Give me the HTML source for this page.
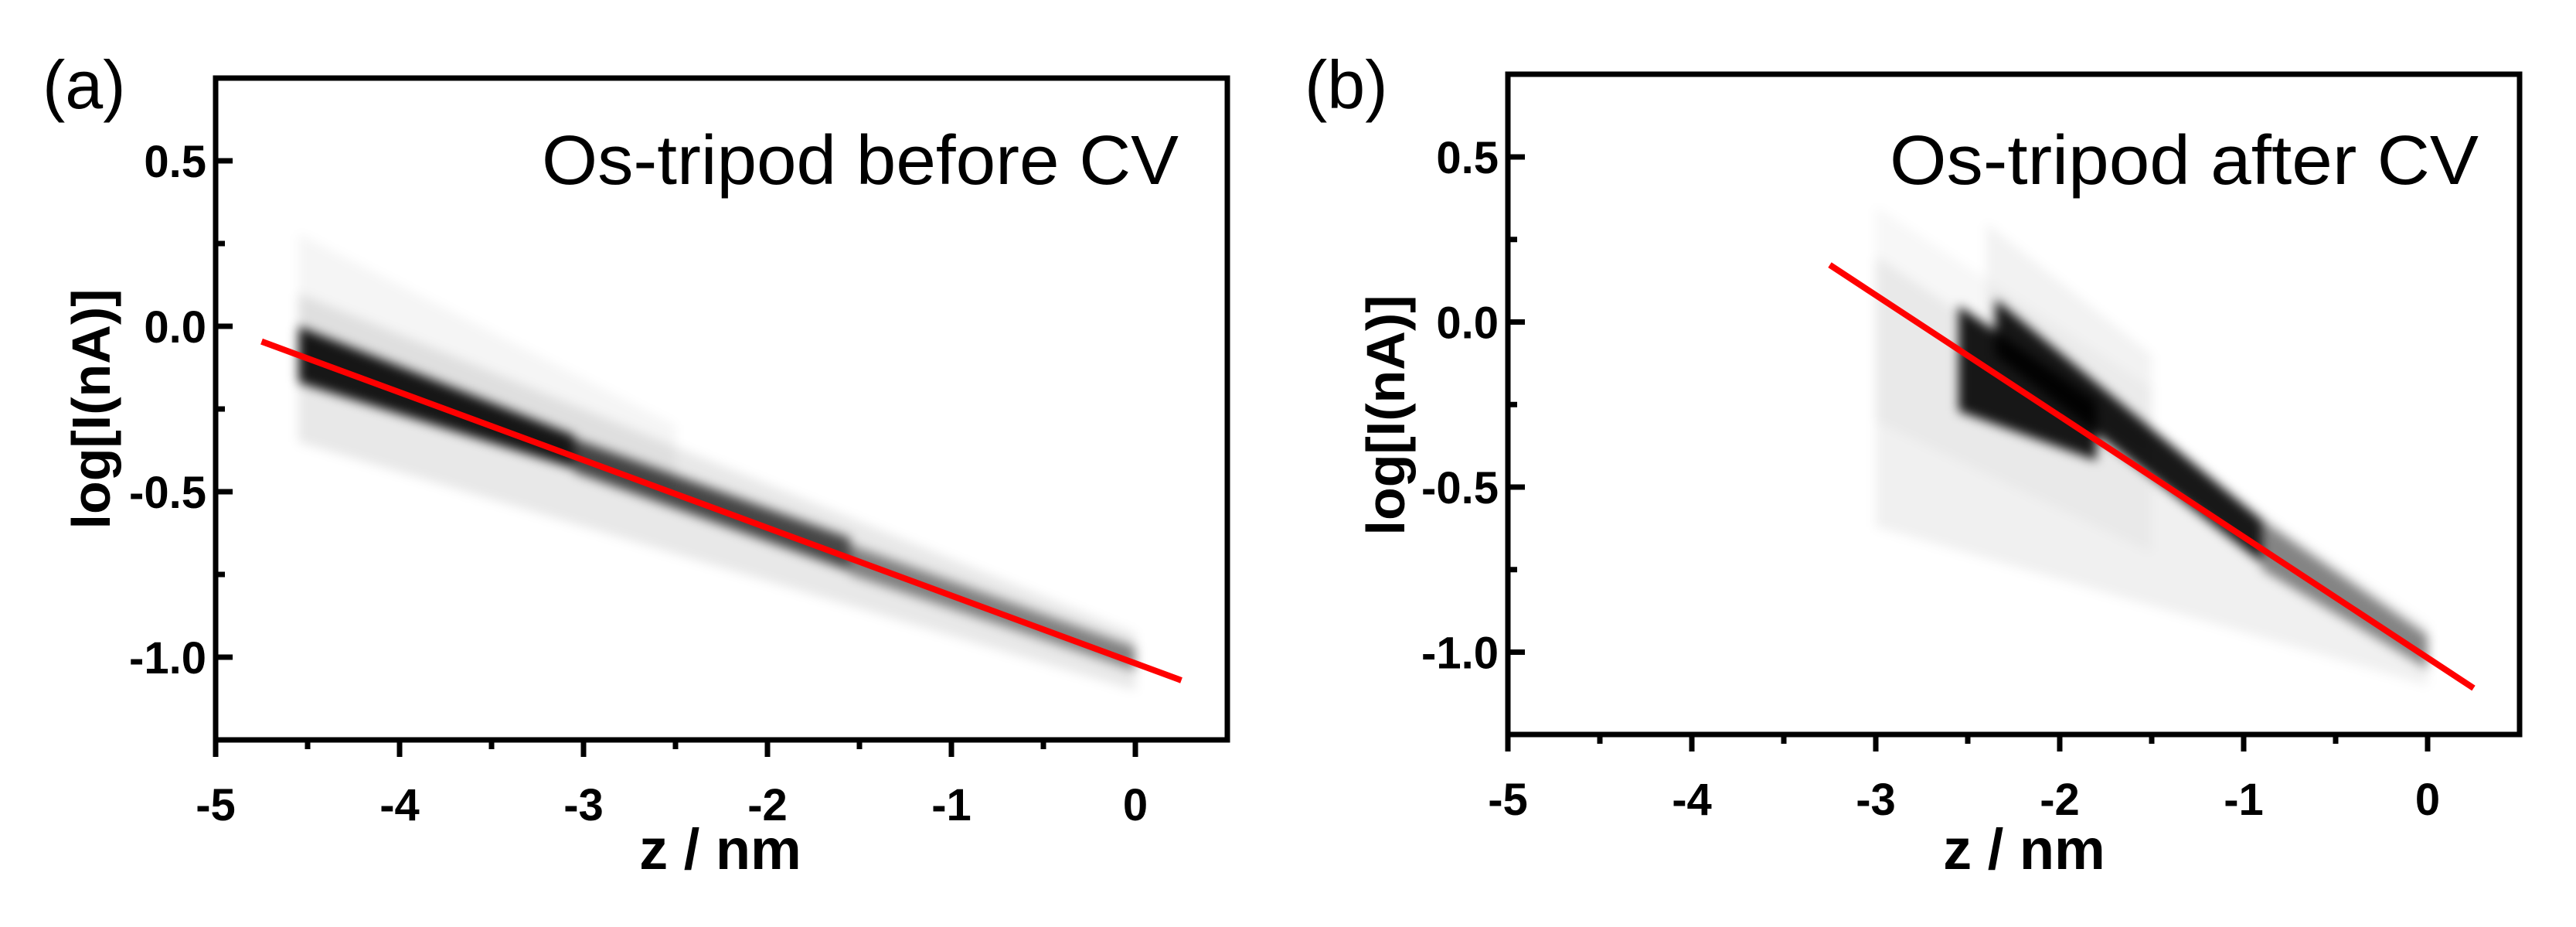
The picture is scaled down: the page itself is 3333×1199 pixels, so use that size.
<!DOCTYPE html>
<html><head><meta charset="utf-8"><style>
html,body{margin:0;padding:0;background:#fff}
svg{display:block}
text{font-family:"Liberation Sans",Arial,sans-serif}
</style></head><body>
<svg id="fig" width="3333" height="1199" viewBox="0 0 3333 1199" xmlns="http://www.w3.org/2000/svg">
<defs><filter id="blur" x="-20%" y="-20%" width="140%" height="140%"><feGaussianBlur stdDeviation="7"/></filter></defs>
</svg>
<script>
// ---- data ----
const xTicks = [-5,-4,-3,-2,-1,0];
const yTicks = [0.5,0.0,-0.5,-1.0];
const yTickLabels = ["0.5","0.0","-0.5","-1.0"];
// panel a fit line endpoints
const fitAz = [-4.75, 0.25];
const fitAy = [-0.046, -1.07];
// panel b fit line endpoints
const fitBz = [-3.25, 0.25];
const fitBy = [0.173, -1.109];
// density bands: zStart, zEnd, yTopStart, yBotStart, yTopEnd, yBotEnd, opacity
const bandsA = [
 [-4.55,0,0.1,-0.35,-0.93,-1.1,0.09],
 [-4.55,-2.5,0.28,-0.1,-0.3,-0.5,0.04],
 [-1.55,0,-0.66,-0.75,-0.97,-1.04,0.45],
 [-3.05,-1.55,-0.34,-0.44,-0.64,-0.74,0.7],
 [-4.55,-3.05,0.0,-0.17,-0.33,-0.43,0.9]
];
const bandsB = [
 [-3,0,0.2,-0.62,-0.92,-1.1,0.06],
 [-3,-1.5,0.35,-0.3,-0.2,-0.7,0.03],
 [-2.4,-1.5,0.3,-0.1,-0.1,-0.4,0.05],
 [-0.9,0,-0.6,-0.75,-0.95,-1.05,0.45],
 [-2.55,-1.8,0.05,-0.27,-0.24,-0.42,0.9],
 [-2.35,-0.9,0.07,-0.1,-0.6,-0.73,0.9]
];
const panels = [
 {id:'a', x0:279, x1:1588, y0:101, y1:957, zero:1469, unitX:238, yHalf:208, unitY:428,
  label:'(a)', lx:55, ly:140, note:'Os-tripod before CV', nx:701, nw:824, ylx:118, yly:529, xtx:932, bands:bandsA, fz:fitAz, fy:fitAy},
 {id:'b', x0:1951, x1:3260, y0:96, y1:950, zero:3141, unitX:238, yHalf:203, unitY:427,
  label:'(b)', lx:1688, ly:140, note:'Os-tripod after CV', nx:2445, nw:762, ylx:1793, yly:537, xtx:2619, bands:bandsB, fz:fitBz, fy:fitBy}
];
const NS='http://www.w3.org/2000/svg';
const svg=document.getElementById('fig');
function mk(tag,attrs,parent){const e=document.createElementNS(NS,tag);for(const k in attrs)e.setAttribute(k,attrs[k]);(parent||svg).appendChild(e);return e;}
panels.forEach(p=>{
  const sx=z=>p.zero+z*p.unitX;
  const sy=v=>p.yHalf+(0.5-v)*p.unitY;
  const g=mk('g',{});
  
  
  const hm=mk('g',{filter:'url(#blur)'},g);
  
  
  p.bands.forEach((b,i)=>{
    const pts=[[sx(b[0]),sy(b[2])],[sx(b[1]),sy(b[4])],[sx(b[1]),sy(b[5])],[sx(b[0]),sy(b[3])]];
    const poly=mk('polygon',{points:pts.map(q=>q.join(',')).join(' '),fill:'#000','fill-opacity':b[6]},hm);
    
    
  });
  const fit=mk('line',{x1:sx(p.fz[0]),y1:sy(p.fy[0]),x2:sx(p.fz[1]),y2:sy(p.fy[1]),stroke:'#ff0000','stroke-width':8},g);
  
  
  const frame=mk('rect',{x:p.x0,y:p.y0,width:p.x1-p.x0,height:p.y1-p.y0,fill:'none',stroke:'#000','stroke-width':7},g);
  
  
  for(let z=-5;z<=0.5001;z+=0.5){
    const major=Math.abs(z-Math.round(z))<1e-6;
    if(z>0.4)continue;
    mk('line',{x1:sx(z),y1:p.y1,x2:sx(z),y2:p.y1+(major?22:12),stroke:'#000','stroke-width':7},g);
  }
  xTicks.forEach(t=>{
    const tx=mk('text',{x:sx(t),y:p.y1+104,'font-size':58,'font-weight':'bold','text-anchor':'middle'},g);
    tx.textContent=String(t);
    
    
  });
  for(let v=0.5;v>=-1.0001;v-=0.25){
    const major=Math.abs(v*2-Math.round(v*2))<1e-6;
    mk('line',{x1:p.x0,y1:sy(v),x2:p.x0+(major?22:12),y2:sy(v),stroke:'#000','stroke-width':7},g);
  }
  yTicks.forEach((t,i)=>{
    const tx=mk('text',{x:p.x0-12,y:sy(t)+21,'font-size':58,'font-weight':'bold','text-anchor':'end'},g);
    tx.textContent=yTickLabels[i];
    
    
  });
  const xt=mk('text',{x:p.xtx,y:1124,'font-size':74,'font-weight':'bold','text-anchor':'middle'},g);
  xt.textContent='z / nm';
  
  
  const yt=mk('text',{x:0,y:0,'font-size':70,'font-weight':'bold','text-anchor':'middle',transform:`translate(${p.ylx+24},${p.yly}) rotate(-90)`},g);
  yt.textContent='log[I(nA)]';
  
  
  const pl=mk('text',{x:p.lx,y:p.ly,'font-size':88},g);
  pl.textContent=p.label;
  
  
  const nt=mk('text',{x:p.nx,y:238,'font-size':90,textLength:p.nw,lengthAdjust:'spacingAndGlyphs'},g);
  nt.textContent=p.note;
  
  
});
</script>
</body></html>
